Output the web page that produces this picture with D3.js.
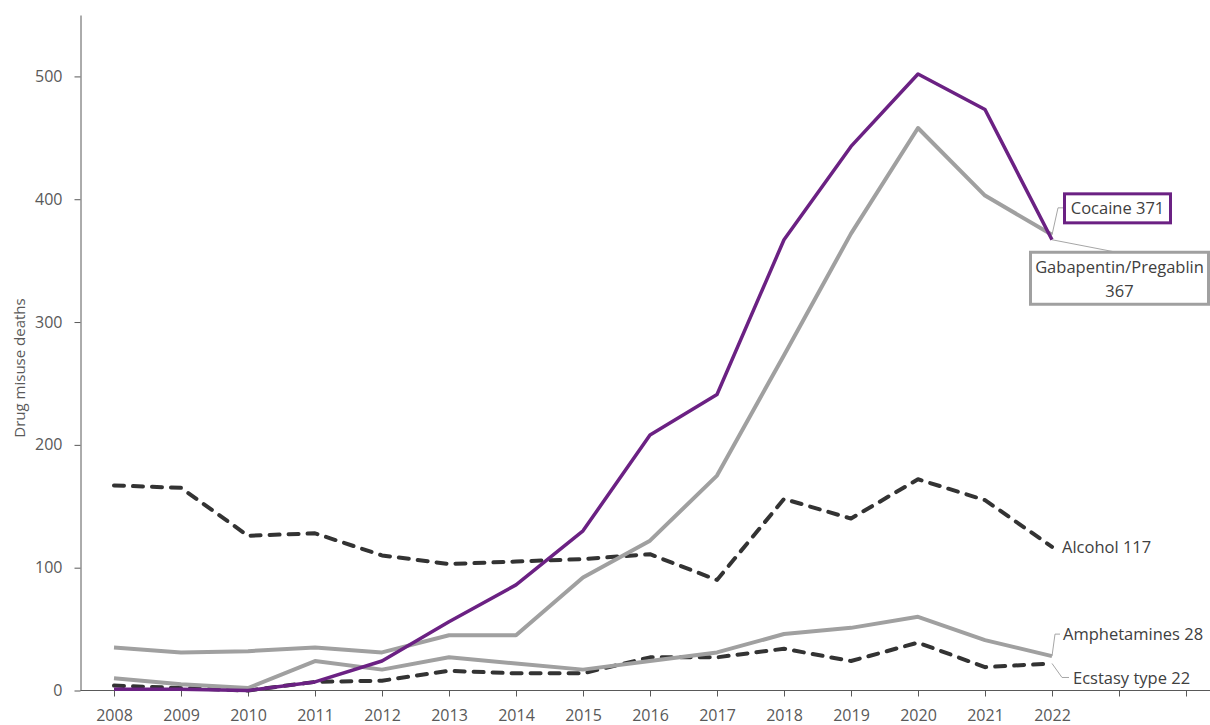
<!DOCTYPE html>
<html><head><meta charset="utf-8">
<script src="https://cdn.jsdelivr.net/npm/d3@7"></script>
<style>
body{margin:0;background:#fff;}
svg{font-family:"Open Sans","Segoe UI",sans-serif;}
</style></head>
<body><svg id="c" width="1210" height="725"></svg>
<script>
const years = [2008,2009,2010,2011,2012,2013,2014,2015,2016,2017,2018,2019,2020,2021,2022];
const axisYears = [2008,2009,2010,2011,2012,2013,2014,2015,2016,2017,2018,2019,2020,2021,2022,2023,2024];
const yTicks = [0,100,200,300,400,500];
const purpleSeries = [1,1,0,7,24,56,86,130,208,241,367,443,502,473,367];
const graySeries = [35,31,32,35,31,45,45,92,122,175,273,372,458,403,371];
const amphetamines = [10,5,2,24,17,27,22,17,24,31,46,51,60,41,28];
const ecstasy = [4,2,0,7,8,16,14,14,27,27,34,24,39,19,22];
const alcohol = [167,165,126,128,110,103,105,107,111,90,156,140,172,155,117];

(function(){
const svg = d3.select("#c");
const mLeft = 80.5, mTop = 15, mBottom = 690.5;
const step = 67;
const x = d3.scalePoint().domain(axisYears).range([mLeft + step/2, mLeft + step/2 + step*16]);
const y = d3.scaleLinear().domain([0,550]).range([mBottom, mTop]);

const axisColor = "#595959", textColor = "#595959";
const tickFont = "16px", labFont = "16.5px";

const ya = svg.append("g").attr("transform",`translate(${mLeft},0)`)
  .call(d3.axisLeft(y).tickValues(yTicks).tickSize(6).tickPadding(12).tickSizeOuter(0));
ya.select(".domain").attr("stroke",axisColor);
ya.selectAll(".tick line").attr("stroke",axisColor);
ya.selectAll(".tick text").attr("fill",textColor).style("font-size",tickFont).style("font-family","Open Sans");

const xa = svg.append("g").attr("transform",`translate(0,${mBottom})`)
  .call(d3.axisBottom(x).tickSize(6).tickPadding(13).tickFormat(d => d <= 2022 ? d : ""));
xa.select(".domain").attr("d",`M${mLeft},0H1210`).attr("stroke",axisColor);
xa.selectAll(".tick line").attr("stroke",axisColor);
xa.selectAll(".tick text").attr("fill",textColor).style("font-size",tickFont).style("font-family","Open Sans");

svg.append("text").attr("transform","translate(25,368) rotate(-90)")
  .attr("text-anchor","middle").attr("fill",textColor).style("font-size","15px")
  .text("Drug misuse deaths");

const line = d3.line().x((d,i)=>x(years[i])).y(d=>y(d));
function draw(data, color, width, dash){
  const p = svg.append("path").datum(data).attr("d",line).attr("fill","none")
    .attr("stroke",color).attr("stroke-width",width).attr("stroke-linejoin","round");
  if(dash) p.attr("stroke-dasharray",dash).attr("stroke-linecap","round");
}
draw(alcohol,"#333333",4,"10,9");
draw(ecstasy,"#333333",4,"10,9");
draw(amphetamines,"#a0a0a0",4);
draw(graySeries,"#a0a0a0",4);
draw(purpleSeries,"#6b2183",3.5);

const last = years.length-1;
const xe = x(years[last]);
const lab = "#404040";
svg.append("text").attr("x",xe+10).attr("y",y(alcohol[last])).attr("dy","0.35em")
  .attr("fill",lab).style("font-size",labFont).text("Alcohol 117");
const ya1 = y(amphetamines[last]);
svg.append("path").attr("d",`M${xe},${ya1}L${xe+3},${ya1-22}H${xe+8}`).attr("fill","none").attr("stroke","#a6a6a6").attr("stroke-width",1);
svg.append("text").attr("x",xe+11).attr("y",ya1-22).attr("dy","0.35em")
  .attr("fill",lab).style("font-size",labFont).text("Amphetamines 28");
const ye1 = y(ecstasy[last]);
svg.append("path").attr("d",`M${xe},${ye1}L${xe+10},${ye1+14}H${xe+17}`).attr("fill","none").attr("stroke","#a6a6a6").attr("stroke-width",1);
svg.append("text").attr("x",xe+21).attr("y",ye1+15).attr("dy","0.35em")
  .attr("fill",lab).style("font-size",labFont).text("Ecstasy type 22");

const yg = y(graySeries[last]);
svg.append("path").attr("d",`M${xe},${yg}L${xe+6},${yg-27}H${xe+12}`).attr("fill","none").attr("stroke","#a6a6a6").attr("stroke-width",1);
svg.append("rect").attr("x",xe+12.5).attr("y",yg-41).attr("width",106).attr("height",29)
  .attr("fill","#fff").attr("stroke","#6b2183").attr("stroke-width",3);
svg.append("text").attr("x",xe+65.5).attr("y",yg-26.5).attr("dy","0.35em").attr("text-anchor","middle")
  .attr("fill",lab).style("font-size",labFont).text("Cocaine 371");

const yp = y(purpleSeries[last]);
svg.append("path").attr("d",`M${xe},${yp}L${xe+62},${yp+12}`).attr("fill","none").attr("stroke","#a6a6a6").attr("stroke-width",1);
svg.append("rect").attr("x",xe-21.5).attr("y",yp+12.5).attr("width",178).attr("height",52)
  .attr("fill","#fff").attr("stroke","#a0a0a0").attr("stroke-width",3);
svg.append("text").attr("x",xe+67.5).attr("y",yp+27).attr("dy","0.35em").attr("text-anchor","middle")
  .attr("fill",lab).style("font-size",labFont).text("Gabapentin/Pregablin");
svg.append("text").attr("x",xe+67.5).attr("y",yp+51).attr("dy","0.35em").attr("text-anchor","middle")
  .attr("fill",lab).style("font-size",labFont).text("367");
})();
</script></body></html>
